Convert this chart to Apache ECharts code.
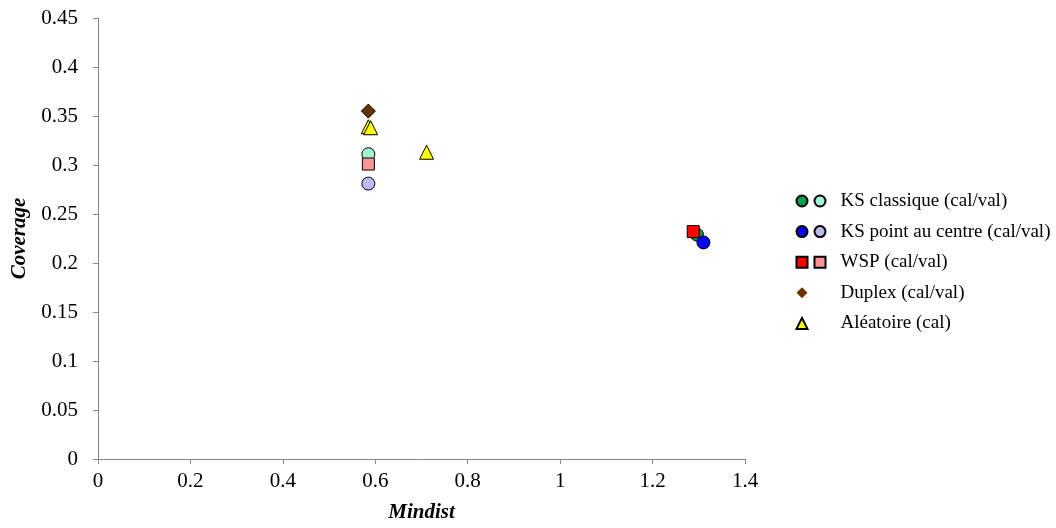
<!DOCTYPE html>
<html><head><meta charset="utf-8">
<script src="https://cdn.jsdelivr.net/npm/echarts@6/dist/echarts.min.js"></script>
<style>html,body{margin:0;padding:0;background:#fff}#c{width:1056px;height:528px}</style>
</head><body><div id="c"></div>
<script>
// Data (x = Mindist, y = Coverage)
const ksClassiqueCal = [[1.296, 0.229]];
const ksClassiqueVal = [[0.585, 0.311]];
const ksCentreCal = [[1.310, 0.221]];
const ksCentreVal = [[0.585, 0.281]];
const wspCal = [[1.288, 0.232]];
const wspVal = [[0.585, 0.301]];
const duplex = [[0.585, 0.355]];
const aleatoire = [[0.585, 0.339], [0.590, 0.338], [0.711, 0.313]];

const xTicks = [0, 0.2, 0.4, 0.6, 0.8, 1, 1.2, 1.4];
const yTicks = [0, 0.05, 0.1, 0.15, 0.2, 0.25, 0.3, 0.35, 0.4, 0.45];

const FONT = 'Liberation Serif';
const names = {
  kc: 'KS classique (cal/val)',
  kp: 'KS point au centre (cal/val)',
  ws: 'WSP (cal/val)',
  du: 'Duplex (cal/val)',
  al: 'Aléatoire (cal)'
};
const valNames = {
  'KS classique val': names.kc,
  'KS point val': names.kp,
  'WSP val': names.ws
};
const SQUARE = 'path://M0,0L10,0L10,10L0,10Z';
function ser(name, data, symbol, color, size) {
  return {type: 'scatter', name, data, symbol, symbolSize: size || 13,
    itemStyle: {color, borderColor: '#000', borderWidth: 1, opacity: 1}, z: 3};
}
const chart = echarts.init(document.getElementById('c'), null, {renderer: 'canvas'});
chart.setOption({
  animation: false,
  backgroundColor: '#fff',
  grid: {left: 98, right: 311, top: 18, bottom: 66},
  xAxis: {
    type: 'value', min: xTicks[0], max: xTicks[xTicks.length - 1], interval: 0.2,
    name: 'Mindist', nameLocation: 'middle', nameGap: 43,
    nameTextStyle: {fontFamily: FONT, fontSize: 21, fontWeight: 'bold', fontStyle: 'italic', color: '#000'},
    axisLine: {show: true, lineStyle: {color: '#868686', width: 1}},
    axisTick: {show: true, length: 5, lineStyle: {color: '#868686'}},
    axisLabel: {fontFamily: FONT, fontSize: 21, color: '#000', margin: 12},
    splitLine: {show: false}
  },
  yAxis: {
    type: 'value', min: yTicks[0], max: yTicks[yTicks.length - 1], interval: 0.05,
    name: 'Coverage', nameLocation: 'middle', nameGap: 66, nameRotate: 90,
    nameTextStyle: {fontFamily: FONT, fontSize: 21, fontWeight: 'bold', fontStyle: 'italic', color: '#000'},
    axisLine: {show: true, lineStyle: {color: '#868686', width: 1}},
    axisTick: {show: true, length: 5, lineStyle: {color: '#868686'}},
    axisLabel: {fontFamily: FONT, fontSize: 21, color: '#000', margin: 20},
    splitLine: {show: false}
  },
  legend: [
    {
      orient: 'vertical', left: 795.5, top: 191.5, padding: 0, itemGap: 11.6,
      itemWidth: 11, itemHeight: 11, selectedMode: false,
      data: [names.kc, names.kp, names.ws, {name: names.du, itemStyle: {borderWidth: 0}}, names.al],
      formatter: n => n,
      textStyle: {fontFamily: FONT, fontSize: 19, lineHeight: 19, color: 'rgba(0,0,0,0)'}
    },
    {
      orient: 'vertical', left: 804.5, top: 191.5, padding: 0, itemGap: 11.6,
      itemWidth: 31, itemHeight: 11, selectedMode: false,
      data: ['KS classique val', 'KS point val', {name: 'WSP val', icon: SQUARE},
        {name: names.du, icon: 'none'}, {name: names.al, icon: 'none'}],
      formatter: n => valNames[n] || n,
      textStyle: {fontFamily: FONT, fontSize: 19, lineHeight: 19, color: '#000'}
    }
  ],
  series: [
    ser(names.kc, ksClassiqueCal, 'circle', '#00A050'),
    ser('KS classique val', ksClassiqueVal, 'circle', '#A0F5D0'),
    ser(names.kp, ksCentreCal, 'circle', '#0000FF'),
    ser('KS point val', ksCentreVal, 'circle', '#BBBBF2'),
    ser(names.ws, wspCal, 'rect', '#FF0000', 12),
    ser('WSP val', wspVal, 'rect', '#FF9494', 12),
    ser(names.du, duplex, 'diamond', '#663300', 14),
    ser(names.al, aleatoire, 'triangle', '#FFFF00', 14)
  ]
});
</script>
</body></html>
